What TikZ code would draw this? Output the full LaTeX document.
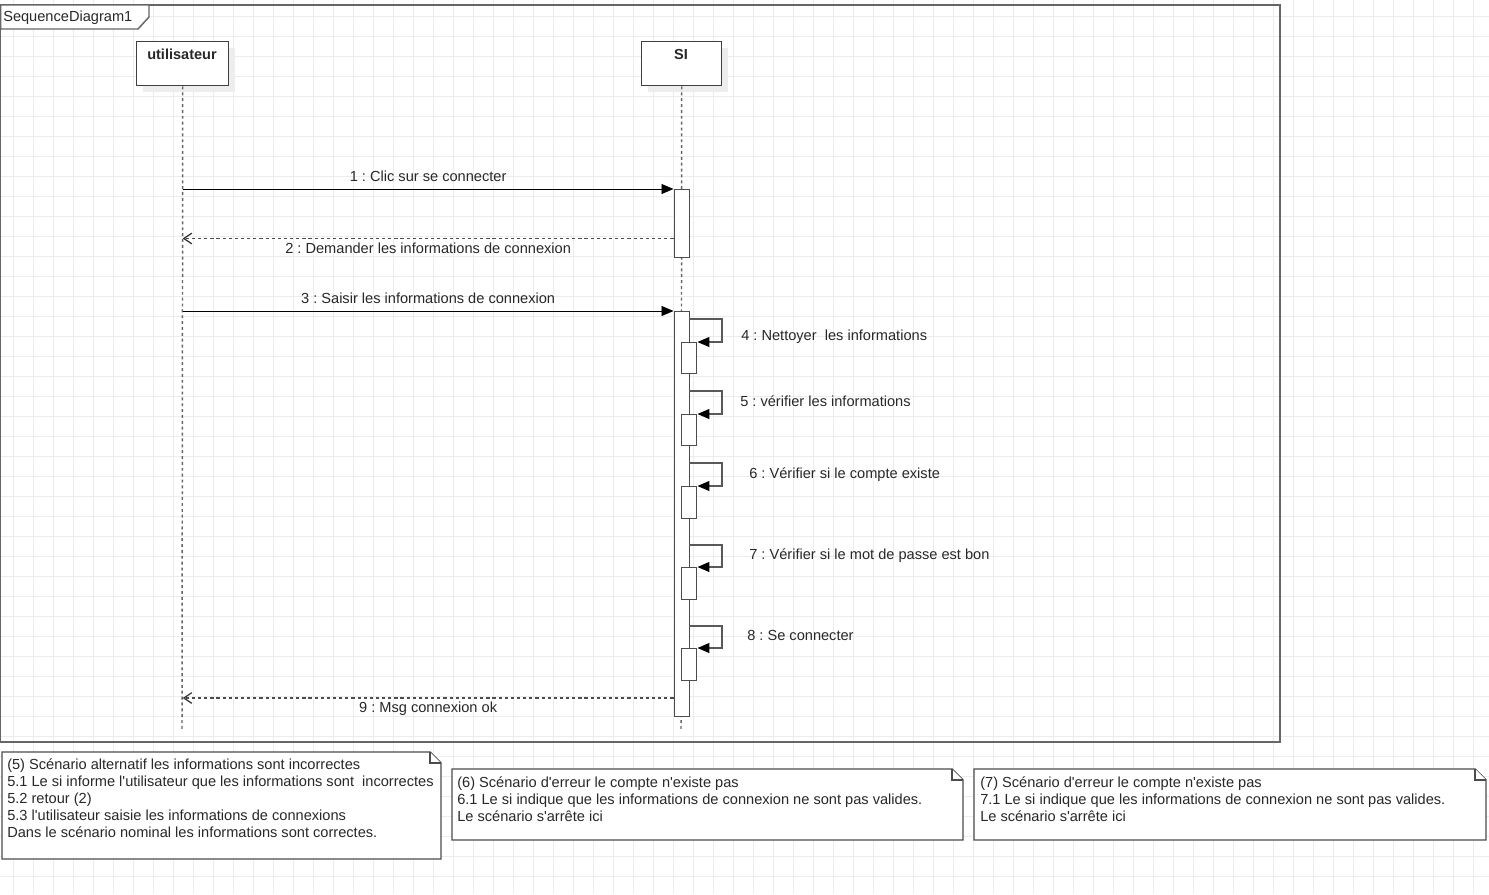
\documentclass[tikz,border=0pt]{standalone}
\usepackage{fontspec}
\setmainfont{Liberation Sans}[Ligatures=TeXOff]
\usetikzlibrary{arrows.meta}
\definecolor{gridc}{RGB}{236,236,236}
\definecolor{txt}{RGB}{40,40,40}
\frenchspacing
\begin{document}
\begin{tikzpicture}[x=0.75pt,y=-0.75pt,
  gridline/.style={draw=gridc,line width=0.75pt},
  frame/.style={draw=black!60,line width=1.1pt},
  headbox/.style={draw=black!75,fill=white,line width=1.1pt,rectangle,anchor=north west,inner sep=0pt,minimum height=33pt},
  shadowbox/.style={fill=black!7,draw=none},
  headtext/.style={font=\fontsize{10.9}{13}\selectfont\bfseries,text=txt,inner sep=0pt,anchor=base},
  lifeline/.style={draw=black!60,line width=1.1pt,dash pattern=on 2.2pt off 2.2pt},
  actbox/.style={draw=black!70,fill=white,line width=1.1pt,rectangle,anchor=north west,inner sep=0pt,minimum width=11.25pt},
  syncmsg/.style={draw=black,line width=0.7pt,-{Triangle[length=9pt,width=7.5pt]}},
  selfmsg/.style={draw=black!65,line width=0.9pt,-{Triangle[length=9pt,width=7.5pt,color=black]}},
  retmsg/.style={draw=black!70,line width=0.9pt,dash pattern=on 2.4pt off 2.2pt,-{Straight Barb[length=6pt,width=8pt,color=black!80]}},
  lbl/.style={font=\fontsize{10.95}{13}\selectfont,text=txt,inner sep=0pt},
  notebox/.style={draw=black!70,fill=white,line width=1.1pt},
  notetext/.style={font=\fontsize{10.95}{12.75}\selectfont,text=txt,inner sep=0pt,align=left,anchor=north west}
]
\useasboundingbox (0,0) rectangle (1489,894);
\fill[white] (0,0) rectangle (1489,894);
% grid
\foreach \gx in {0,...,74} { \draw[gridline] (13.33+20*\gx,0) -- (13.33+20*\gx,894); }
\foreach \gy in {0,...,44} { \draw[gridline] (0,16+20*\gy) -- (1489,16+20*\gy); }

% frame
\draw[frame] (0.6,5) rectangle (1280,742);
\draw[frame,fill=white] (0.6,5) -- (149,5) -- (149,17) -- (138,29) -- (0.6,29) -- cycle;
\node[lbl,anchor=base west] (title) at (3,21) {SequenceDiagram1};

% lifeline heads
\fill[shadowbox] (143,48) rectangle (235,92);
\fill[shadowbox] (648,48) rectangle (728,92);
\node[headbox,minimum width=69pt] (u) at (136,41) {};
\node[headbox,minimum width=60pt] (s) at (641,41) {};
\node[headtext] (ut) at (182,59.5) {utilisateur};
\node[headtext] (st) at (681,59.5) {SI};

% lifelines
\coordinate (uend) at (182,731);
\coordinate (send) at (681,731);
\draw[lifeline] (u.south) -- (uend);
\draw[lifeline] (s.south) -- (send);

% activations
\node[actbox,minimum height=51pt] (a1) at (673.5,189) {};
\node[actbox,minimum height=303.75pt] (a2) at (673.5,311) {};
\node[actbox,minimum height=23.25pt] (n4) at (681,342) {};
\node[actbox,minimum height=23.25pt] (n5) at (681,414) {};
\node[actbox,minimum height=24pt] (n6) at (681,486) {};
\node[actbox,minimum height=24pt] (n7) at (681,567) {};
\node[actbox,minimum height=24pt] (n8) at (681,648) {};

% messages
\draw[syncmsg] (u.south |- a1.north west) -- (a1.north west)
  node[lbl,midway,anchor=base,yshift=5.4pt] (l1) {1 : Clic sur se connecter};
\coordinate (r2) at (673.5,238.5);
\draw[retmsg] (r2) -- (u.south |- r2)
  node[lbl,midway,anchor=base,yshift=-11.6pt] (l2) {2 : Demander les informations de connexion};
\draw[syncmsg] (u.south |- a2.north west) -- (a2.north west)
  node[lbl,midway,anchor=base,yshift=5.4pt] (l3) {3 : Saisir les informations de connexion};
\coordinate (r9) at (673.5,698);
\draw[retmsg] (r9) -- (u.south |- r9)
  node[lbl,midway,anchor=base,yshift=-11.2pt] (l9) {9 : Msg connexion ok};

% self messages
\coordinate (t4) at (689,319);
\draw[selfmsg] (t4) -- (722,319) -- (722,342) -- (n4.north east);
\node[lbl,anchor=base west] (l4) at (741,340) {4 : Nettoyer\ \ les informations};
\coordinate (t5) at (689,391);
\draw[selfmsg] (t5) -- (722,391) -- (722,414) -- (n5.north east);
\node[lbl,anchor=base west] (l5) at (740,406) {5 : vérifier les informations};
\coordinate (t6) at (689,463);
\draw[selfmsg] (t6) -- (722,463) -- (722,486) -- (n6.north east);
\node[lbl,anchor=base west] (l6) at (749,478) {6 : Vérifier si le compte existe};
\coordinate (t7) at (689,545);
\draw[selfmsg] (t7) -- (722,545) -- (722,567) -- (n7.north east);
\node[lbl,anchor=base west] (l7) at (749,559) {7 : Vérifier si le mot de passe est bon};
\coordinate (t8) at (689,626);
\draw[selfmsg] (t8) -- (722,626) -- (722,648) -- (n8.north east);
\node[lbl,anchor=base west] (l8) at (747,640) {8 : Se connecter};

% notes
\draw[notebox] (2,752) -- (430,752) -- (441,763) -- (441,859) -- (2,859) -- cycle;
\draw[notebox] (430,752) -- (430,763) -- (441,763);
\node[notetext] (note5) at (7,758) {(5) Scénario alternatif les informations sont incorrectes\\
5.1 Le si informe l'utilisateur que les informations sont\ \ incorrectes\\
5.2 retour (2)\\
5.3 l'utilisateur saisie les informations de connexions\\
Dans le scénario nominal les informations sont correctes.};

\draw[notebox] (452,769) -- (952,769) -- (963,780) -- (963,840) -- (452,840) -- cycle;
\draw[notebox] (952,769) -- (952,780) -- (963,780);
\node[notetext] (note6) at (457,776) {(6) Scénario d'erreur le compte n'existe pas\\
6.1 Le si indique que les informations de connexion ne sont pas valides.\\
Le scénario s'arrête ici};

\draw[notebox] (974,769) -- (1475,769) -- (1486,780) -- (1486,840) -- (974,840) -- cycle;
\draw[notebox] (1475,769) -- (1475,780) -- (1486,780);
\node[notetext] (note7) at (980,776) {(7) Scénario d'erreur le compte n'existe pas\\
7.1 Le si indique que les informations de connexion ne sont pas valides.\\
Le scénario s'arrête ici};
\end{tikzpicture}
\end{document}
